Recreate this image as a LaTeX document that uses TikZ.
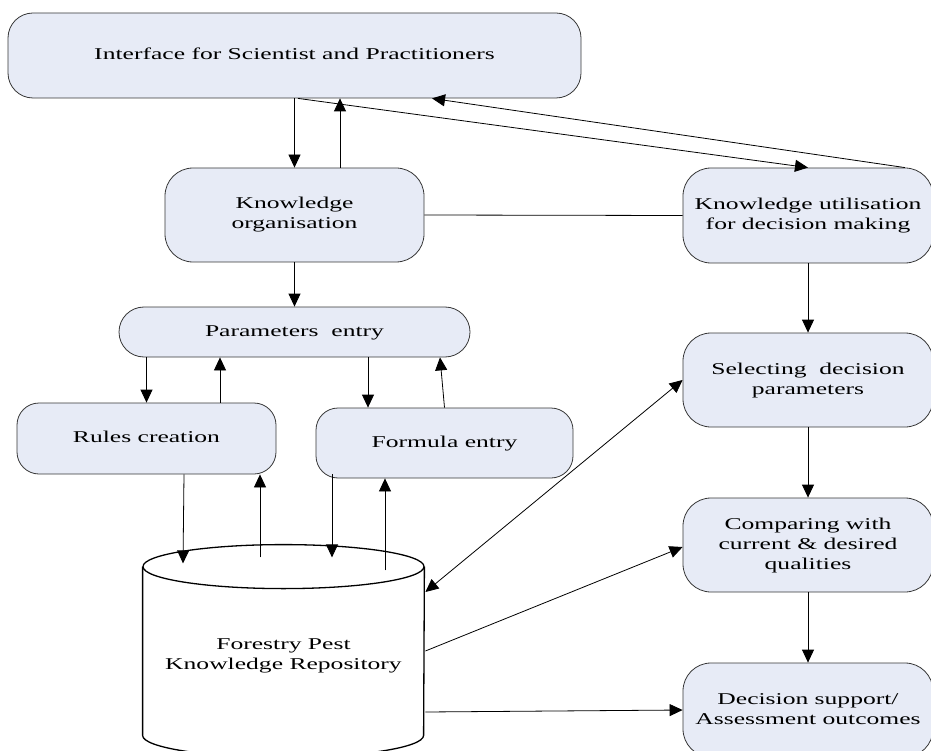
\documentclass[tikz,border=0pt]{standalone}
\usepackage{fontspec}
\setmainfont{Liberation Serif}
\usepackage{graphicx}
\usepackage{tikz}
\usetikzlibrary{arrows.meta,positioning,shapes}

\definecolor{boxfill}{RGB}{231,235,246}
\definecolor{boxline}{RGB}{55,55,55}
\newcommand{\wtext}[1]{\scalebox{1.55}[1]{\begin{tabular}{@{}c@{}}#1\end{tabular}}}

\begin{document}
\begin{tikzpicture}[x=1pt,y=-1pt,line width=0.8pt]
\tikzstyle{blk}=[draw=boxline,fill=boxfill,inner sep=0pt,align=center,
  rounded corners=28pt,font=\fontsize{16.5}{20}\selectfont]
\tikzstyle{arr}=[-{Triangle[length=13pt,width=12pt]}]
\tikzstyle{cyl}=[line width=1.3pt,fill=white]

\useasboundingbox (0,0) rectangle (931,751);
\clip (0,0) rectangle (931,751);

%% Left part: knowledge side
\node [blk,rounded corners=25pt,minimum width=573pt,minimum height=85pt] (iface) at (294.5,55.5)
  {\wtext{Interface for Scientist and Practitioners}};
\node [blk,minimum width=259pt,minimum height=94pt] (korg) at (294.5,215)
  {\wtext{Knowledge\\organisation}};
\node [blk,rounded corners=25pt,minimum width=351pt,minimum height=50pt] (params) at (294.5,332)
  {\wtext{Parameters\ \ entry}};
\node [blk,rounded corners=22pt,minimum width=259pt,minimum height=71pt] (rules) at (146.5,438.5)
  {\wtext{Rules creation}};
\node [blk,rounded corners=22pt,minimum width=257pt,minimum height=70pt] (formula) at (444.5,443)
  {\wtext{Formula entry}};

%% Repository (cylinder drawn round the node)
\node [inner sep=0pt,minimum width=281pt,minimum height=168pt,align=center,
  font=\fontsize{16.5}{20}\selectfont] (repo) at (283.5,651) {};
\draw [cyl] (repo.north west) -- (repo.south west)
  arc[start angle=180,end angle=360,x radius=140.5pt,y radius=22pt] -- (repo.north east);
\draw [cyl] (repo.north) ellipse [x radius=140.5pt,y radius=22pt];
\node [font=\fontsize{16.5}{20}\selectfont] (repotext) at ([yshift=-4pt]repo.center)
  {\wtext{Forestry Pest\\Knowledge Repository}};

%% Right part: decision side
\node [blk,minimum width=250pt,minimum height=95pt] (kutil) at (808,215.5)
  {\wtext{Knowledge utilisation\\for decision making}};
\node [blk,minimum width=250pt,minimum height=94pt] (select) at (808,380)
  {\wtext{Selecting\ \ decision\\parameters}};
\node [blk,minimum width=250pt,minimum height=94pt] (compare) at (808,545)
  {\wtext{Comparing with\\current \& desired\\qualities}};
\node [blk,minimum width=250pt,minimum height=94pt] (decide) at (808,710)
  {\wtext{Decision support/\\Assessment outcomes}};

%% Connectors
\draw [arr] (iface.south) -- (korg.north);
\draw [arr] ([xshift=45.5pt]korg.north) -- ([xshift=45.5pt]iface.south);
\draw [arr] ([xshift=3.5pt]iface.south) -- (kutil.north);
\draw [arr] ([xshift=97pt]kutil.north) -- ([xshift=137.5pt]iface.south);
\draw (korg.east) -- (kutil.west);
\draw [arr] (korg.south) -- (params.north);

\draw [arr] (rules.north |- params.south) -- (rules.north);
\draw [arr] ([xshift=73.5pt]rules.north) -- ([xshift=73.5pt]rules.north |- params.south);
\draw [arr] ([xshift=-76.5pt]formula.north |- params.south) -- ([xshift=-76.5pt]formula.north);
\draw [arr] (formula.north) -- ([xshift=145.5pt]params.south);

\draw [arr] ([xshift=37.5pt]rules.south) -- ++(-1,89);
\draw [arr] ([xshift=113.5pt]rules.south) ++(0,83) -- ([xshift=113.5pt]rules.south);
\draw [arr] ([xshift=-112.5pt,yshift=4pt]formula.south) -- ++(0,83);
\draw [arr] ([xshift=-59.5pt]formula.south) ++(0,92) -- ([xshift=-59.5pt]formula.south);

\draw [arr] (kutil.south) -- (select.north);
\draw [arr] (select.south) -- (compare.north);
\draw [arr] (compare.south) -- (decide.north);

\draw [{Triangle[length=13pt,width=12pt]}-{Triangle[length=13pt,width=12pt]}]
  ([xshift=1pt,yshift=59pt]repo.east) -- (select.west);
\draw [arr] ([xshift=1pt]repo.east) -- ([yshift=-2pt]compare.west);
\draw [arr] ([xshift=1pt,yshift=-61pt]repo.east) -- (decide.west);
\end{tikzpicture}
\end{document}
